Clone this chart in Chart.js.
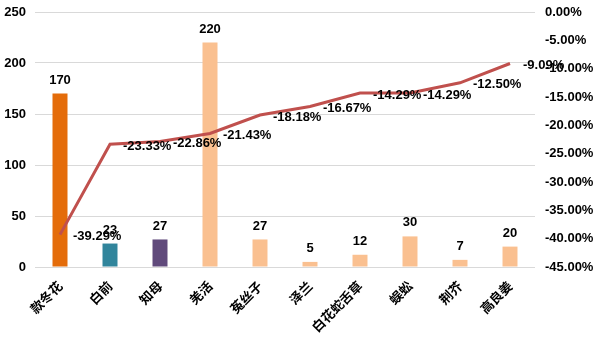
<!DOCTYPE html>
<html>
<head>
<meta charset="utf-8">
<script src="https://cdn.jsdelivr.net/npm/chart.js@4/dist/chart.umd.min.js"></script>
<style>
  body { margin: 0; background: #fff; }
</style>
</head>
<body>
<canvas id="chart" width="599" height="340"></canvas>
<script>
var herbs = ["款冬花", "白前", "知母", "羌活", "菟丝子", "泽兰", "白花蛇舌草", "蜈蚣", "荆芥", "高良姜"];
var counts = [170, 23, 27, 220, 27, 5, 12, 30, 7, 20];
var changes = [-39.29, -23.33, -22.86, -21.43, -18.18, -16.67, -14.29, -14.29, -12.50, -9.09];
var countTicks = [0, 50, 100, 150, 200, 250];
var changeTicks = [0, -5, -10, -15, -20, -25, -30, -35, -40, -45];

var barColors = ['#E46C0A', '#31859C', '#604A7B', '#FAC090', '#FAC090',
                 '#FAC090', '#FAC090', '#FAC090', '#FAC090', '#FAC090'];

var labelFont = 'bold 13px "Liberation Sans", Arial, sans-serif';

// value labels: counts above bars, percentages to the right of line points
var valueLabels = {
  id: 'valueLabels',
  afterDatasetsDraw: function (chart) {
    var ctx = chart.ctx;
    ctx.save();
    ctx.font = labelFont;
    ctx.fillStyle = '#000';
    chart.getDatasetMeta(1).data.forEach(function (el, i) {
      ctx.textAlign = 'center';
      ctx.textBaseline = 'bottom';
      ctx.fillText(String(counts[i]), el.x, el.y - 7);
    });
    chart.getDatasetMeta(0).data.forEach(function (el, i) {
      ctx.textAlign = 'left';
      ctx.textBaseline = 'middle';
      ctx.fillText(changes[i].toFixed(2) + '%', el.x + 13, el.y + 2);
    });
    ctx.restore();
  }
};

// fixed axis sizes so the plot area sits where we want it
function fixVertical(width) {
  return function (s) {
    s.width = width;
    s.paddingTop = 0;
    s.paddingBottom = 0;
  };
}

var chart = new Chart('chart', {
  type: 'bar',
  data: {
    labels: herbs,
    datasets: [
      {
        type: 'line',
        label: 'change',
        data: changes,
        yAxisID: 'y1',
        borderColor: '#C0504D',
        borderWidth: 3,
        pointRadius: 0,
        tension: 0,
        order: 0
      },
      {
        label: 'count',
        data: counts,
        yAxisID: 'y',
        backgroundColor: barColors,
        barPercentage: 0.3,
        categoryPercentage: 1,
        order: 1
      }
    ]
  },
  options: {
    responsive: false,
    animation: false,
    layout: { padding: { top: 12, left: 0, right: 0, bottom: 0 } },
    plugins: { legend: { display: false }, tooltip: { enabled: false } },
    scales: {
      x: {
        grid: { display: false },
        border: { display: false },
        ticks: {
          color: '#000',
          font: { family: '"Noto Sans CJK SC"', size: 13, weight: 'bold' },
          minRotation: 45,
          maxRotation: 45,
          autoSkip: false
        },
        afterFit: function (s) { s.height = 73; s.paddingLeft = 0; s.paddingRight = 0; }
      },
      y: {
        position: 'left',
        min: 0,
        max: 250,
        afterBuildTicks: function (s) { s.ticks = countTicks.map(function (v) { return { value: v }; }); },
        grid: { color: '#D9D9D9', lineWidth: 1, drawTicks: false },
        border: { display: false },
        ticks: {
          color: '#000',
          padding: 9,
          font: { family: '"Liberation Sans", Arial', size: 13, weight: 'bold' }
        },
        afterFit: fixVertical(35)
      },
      y1: {
        position: 'right',
        min: -45,
        max: 0,
        afterBuildTicks: function (s) { s.ticks = changeTicks.map(function (v) { return { value: v }; }); },
        grid: { display: false, drawTicks: false },
        border: { display: false },
        ticks: {
          color: '#000',
          padding: 10,
          font: { family: '"Liberation Sans", Arial', size: 13, weight: 'bold' },
          callback: function (v) { return v.toFixed(2) + '%'; }
        },
        afterFit: fixVertical(64)
      }
    }
  },
  plugins: [valueLabels]
});
</script>
</body>
</html>
